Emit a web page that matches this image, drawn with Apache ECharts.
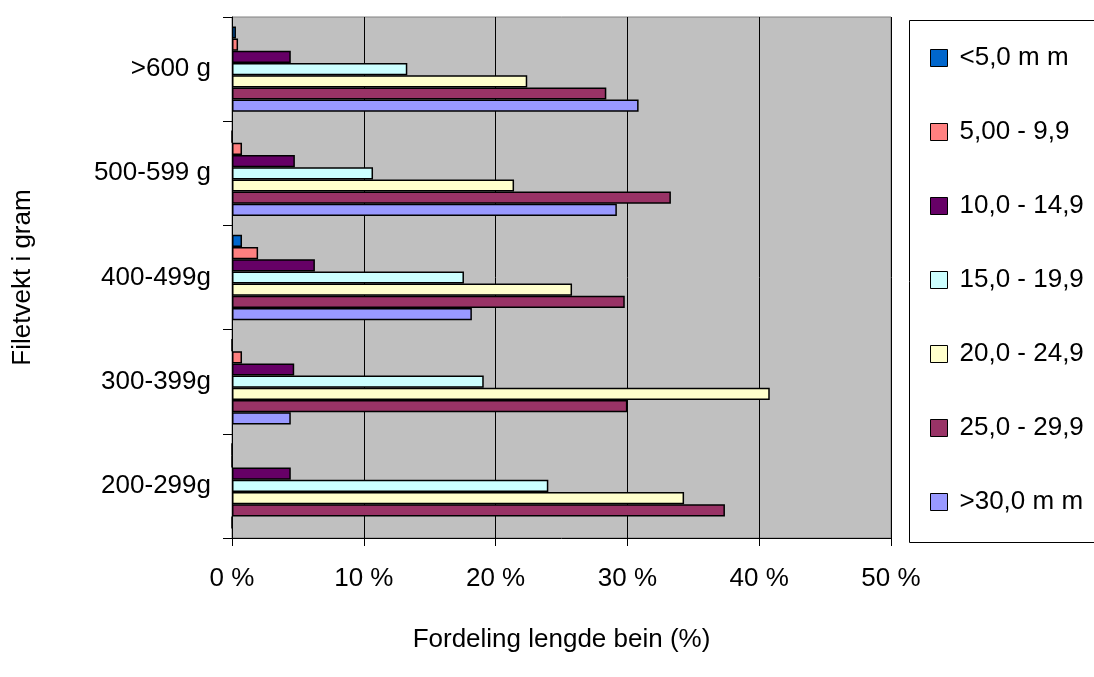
<!DOCTYPE html>
<html>
<head>
<meta charset="utf-8">
<script src="https://cdn.jsdelivr.net/npm/echarts@6/dist/echarts.min.js"></script>
<style>
  html, body { margin: 0; padding: 0; background: #fff; }
  #chart { width: 1094px; height: 677px; }
</style>
</head>
<body>
<div id="chart"></div>
<script>
// Fillet weight classes (top to bottom)
const categories = ['>600 g', '500-599 g', '400-499g', '300-399g', '200-299g'];

// Bone length classes
const seriesNames = ['<5,0 m m', '5,00 - 9,9', '10,0 - 14,9', '15,0 - 19,9', '20,0 - 24,9', '25,0 - 29,9', '>30,0 m m'];

// Share (%) per bone length class, one value per weight class
const lt5     = [0.30, 0.00, 0.76, 0.00, 0.00];
const len5    = [0.46, 0.76, 1.98, 0.76, 0.00];
const len10   = [4.46, 4.77, 6.29, 4.72, 4.46];
const len15   = [13.3, 10.7, 17.6, 19.1, 24.0];
const len20   = [22.4, 21.4, 25.8, 40.8, 34.3];
const len25   = [28.4, 33.3, 29.8, 30.0, 37.4];
const gt30    = [30.85, 29.2, 18.2, 4.46, 0.00];

const xTicks = [0, 10, 20, 30, 40, 50];

const colors = ['#0066cc', '#ff8080', '#660066', '#ccffff', '#ffffcc', '#993366', '#9999ff'];
const values = [lt5, len5, len10, len15, len20, len25, gt30];

const chart = echarts.init(document.getElementById('chart'), null, { renderer: 'canvas' });

const font = 'Liberation Sans, Arial, sans-serif';
const fs = 26;

const option = {
  animation: false,
  backgroundColor: '#ffffff',
  grid: {
    left: 232, top: 17, width: 659, height: 521,
    show: true, backgroundColor: '#c0c0c0', borderColor: '#808080', borderWidth: 1
  },
  xAxis: {
    type: 'value',
    min: xTicks[0], max: xTicks[xTicks.length - 1], interval: 10,
    axisLine: { show: true, lineStyle: { color: '#000', width: 1 } },
    axisTick: { show: true, length: 8, lineStyle: { color: '#000' } },
    splitLine: { show: true, lineStyle: { color: '#000', width: 1 } },
    axisLabel: { formatter: '{value} %', color: '#000', fontSize: fs, fontFamily: font, margin: 28 },
    name: 'Fordeling lengde bein (%)',
    nameLocation: 'middle', nameGap: 89,
    nameTextStyle: { color: '#000', fontSize: fs, fontFamily: font }
  },
  yAxis: {
    type: 'category', inverse: true, data: categories,
    axisLine: { show: true, lineStyle: { color: '#000', width: 1 } },
    axisTick: { show: true, length: 9, lineStyle: { color: '#000' } },
    axisLabel: { color: '#000', fontSize: fs, fontFamily: font, margin: 21, padding: [8, 0, 0, 0] },
    name: 'Filetvekt i gram',
    nameLocation: 'middle', nameRotate: 90, nameGap: 196,
    nameTextStyle: { color: '#000', fontSize: fs, fontFamily: font }
  },
  legend: {
    orient: 'vertical', left: 925, top: 40,
    itemWidth: 17, itemHeight: 17, itemGap: 48,
    icon: 'rect',
    itemStyle: { borderColor: '#000', borderWidth: 1 },
    textStyle: { color: '#000', fontSize: fs, fontFamily: font, lineHeight: 26, padding: [0, 0, 0, 7] },
    data: seriesNames
  },
  graphic: [{
    type: 'rect', left: 907, top: 18,
    shape: { width: 200, height: 522 },
    style: { fill: 'none', stroke: '#000', lineWidth: 1 },
    z: -1
  }],
  series: seriesNames.map((name, i) => ({
    name: name,
    type: 'bar',
    data: values[i],
    barGap: '0%',
    barCategoryGap: '18%',
    itemStyle: { color: colors[i], borderColor: '#000', borderWidth: 1.5 }
  }))
};

chart.setOption(option);
</script>
</body>
</html>
